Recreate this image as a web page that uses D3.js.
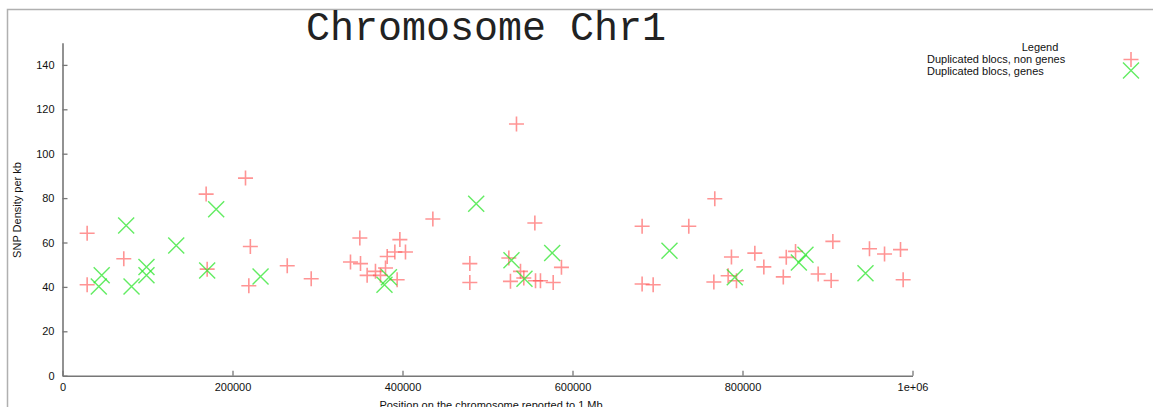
<!DOCTYPE html>
<html>
<head>
<meta charset="utf-8">
<script src="https://cdn.jsdelivr.net/npm/d3@7"></script>
<style>
  body { margin: 0; background: #fff; }
  text { font-family: "Liberation Sans", Arial, sans-serif; }
</style>
</head>
<body>
<div id="chart"></div>
<script>
// data: position (bp) and SNP density per kb
var nonGenePos = [29000, 29000, 72100, 169000, 170200, 215300, 221000, 219200, 264400, 292600,
    338800, 349800, 350600, 358400, 368200, 374100, 380000, 382000, 391000, 393700,
    396900, 403500, 435700, 479200, 479200, 525100, 534100, 527000, 538800, 542700,
    555700, 556500, 562300, 577300, 587000, 681900, 681900, 694900, 736800, 767400,
    766300, 783100, 787000, 792900, 814500, 825100, 848000, 851500, 862400, 889000,
    904300, 906300, 949400, 967100, 985900, 989000];
var nonGeneDensity = [64.2, 41, 52.7, 81.8, 48, 89, 58.2, 40.5, 49.5, 43.7,
    51.2, 62, 50.5, 45.2, 47, 45.2, 48.5, 53.7, 55.7, 43.2,
    61.3, 55.7, 70.6, 50.5, 42, 53, 113.4, 42.5, 47, 44,
    68.8, 42.8, 42.8, 42, 48.8, 67.3, 41.3, 41, 67.3, 79.7,
    42.2, 45, 53.5, 42.8, 55.2, 49, 44.5, 53.3, 56, 45.8,
    42.9, 60.5, 57.2, 54.8, 56.8, 43.2];

var genePos = [46100, 42700, 74900, 81200, 98800, 98800, 133800, 170200, 180800, 233000,
    384000, 378800, 486700, 528200, 543500, 576100, 714100, 790900, 866300, 874100, 944700];
var geneDensity = [45.2, 40.2, 67.7, 40.2, 49, 45.2, 58.7, 47.4, 75, 44.7,
    44.4, 41, 77.5, 52, 43.7, 55.3, 56.3, 44.3, 51, 54.5, 46.2];

var xTicks = [0, 200000, 400000, 600000, 800000, 1000000];
var xTickLabels = ["0", "200000", "400000", "600000", "800000", "1e+06"];
var yTicks = [0, 20, 40, 60, 80, 100, 120, 140];

var seriesNames = ["Duplicated blocs, non genes", "Duplicated blocs, genes"];

var W = 1153, H = 407;

var svg = d3.select("#chart")
    .append("svg")
    .attr("width", W)
    .attr("height", H);

// outer frame (only top and left visible)
svg.append("path")
    .attr("d", "M7.5," + H + "V9.5H" + W)
    .attr("fill", "none")
    .attr("stroke", "#b0b0b0")
    .attr("stroke-width", 1.5);

// scales
var x = d3.scaleLinear()
    .domain([0, 1000000])
    .range([62.5, 912.5]);

var y = d3.scaleLinear()
    .domain([0, 150])
    .range([375.7, 42.7]);

// axes
var xAxis = svg.append("g")
    .attr("transform", "translate(0," + y(0) + ")")
    .call(d3.axisBottom(x)
        .tickValues(xTicks)
        .tickFormat(function (d, i) { return xTickLabels[i]; })
        .tickSizeInner(-5)
        .tickSizeOuter(0)
        .tickPadding(8));

var yAxis = svg.append("g")
    .attr("transform", "translate(" + x(0) + ",0)")
    .call(d3.axisLeft(y)
        .tickValues(yTicks)
        .tickSizeInner(-5)
        .tickSizeOuter(0)
        .tickPadding(8));

[xAxis, yAxis].forEach(function (a) {
    a.select(".domain").attr("stroke", "#777").attr("stroke-width", 1.6);
    a.selectAll(".tick line").attr("stroke", "#777").attr("stroke-width", 1.3);
    a.selectAll(".tick text")
        .attr("fill", "#111")
        .style("font-family", "'Liberation Sans', Arial, sans-serif")
        .style("font-size", "11px");
});

// title
svg.append("text")
    .attr("x", 306)
    .attr("y", 39.5)
    .style("font-family", "'Liberation Mono', 'DejaVu Sans Mono', monospace")
    .style("font-size", "40px")
    .attr("fill", "#222")
    .text("Chromosome Chr1");

// axis labels
svg.append("text")
    .attr("transform", "translate(21," + 210 + ") rotate(-90)")
    .attr("text-anchor", "middle")
    .style("font-size", "11px")
    .attr("fill", "#111")
    .text("SNP Density per kb");

svg.append("text")
    .attr("x", 491)
    .attr("y", 409)
    .attr("text-anchor", "middle")
    .style("font-size", "11px")
    .attr("fill", "#111")
    .text("Position on the chromosome reported to 1 Mb");

// markers
var plusPath = "M-7.5,0H7.5M0,-7.5V7.5";
var crossPath = "M-8,-8L8,8M-8,8L8,-8";

var redCol = "#ff4d4d", greenCol = "#2ee62e";

svg.append("g").selectAll("path")
    .data(d3.range(nonGenePos.length))
    .enter()
    .append("path")
    .attr("d", plusPath)
    .attr("transform", function (i) { return "translate(" + x(nonGenePos[i]) + "," + y(nonGeneDensity[i]) + ")"; })
    .attr("fill", "none")
    .attr("stroke", redCol)
    .attr("stroke-width", 1.6)
    .attr("stroke-opacity", 0.6);

svg.append("g").selectAll("path")
    .data(d3.range(genePos.length))
    .enter()
    .append("path")
    .attr("d", crossPath)
    .attr("transform", function (i) { return "translate(" + x(genePos[i]) + "," + y(geneDensity[i]) + ")"; })
    .attr("fill", "none")
    .attr("stroke", greenCol)
    .attr("stroke-width", 1.4)
    .attr("stroke-opacity", 0.75);

// legend
var legend = svg.append("g");
legend.append("text")
    .attr("x", 1040)
    .attr("y", 51)
    .attr("text-anchor", "middle")
    .style("font-size", "11px")
    .attr("fill", "#111")
    .text("Legend");

legend.selectAll(".lab")
    .data(seriesNames)
    .enter()
    .append("text")
    .attr("class", "lab")
    .attr("x", 927)
    .attr("y", function (d, i) { return 63 + i * 11.5; })
    .style("font-size", "11px")
    .attr("fill", "#111")
    .text(function (d) { return d; });

legend.append("path")
    .attr("d", plusPath)
    .attr("transform", "translate(1131,59.5)")
    .attr("fill", "none")
    .attr("stroke", redCol)
    .attr("stroke-width", 1.6)
    .attr("stroke-opacity", 0.6);

legend.append("path")
    .attr("d", crossPath)
    .attr("transform", "translate(1131,70.5)")
    .attr("fill", "none")
    .attr("stroke", greenCol)
    .attr("stroke-width", 1.4)
    .attr("stroke-opacity", 0.75);
</script>
</body>
</html>
